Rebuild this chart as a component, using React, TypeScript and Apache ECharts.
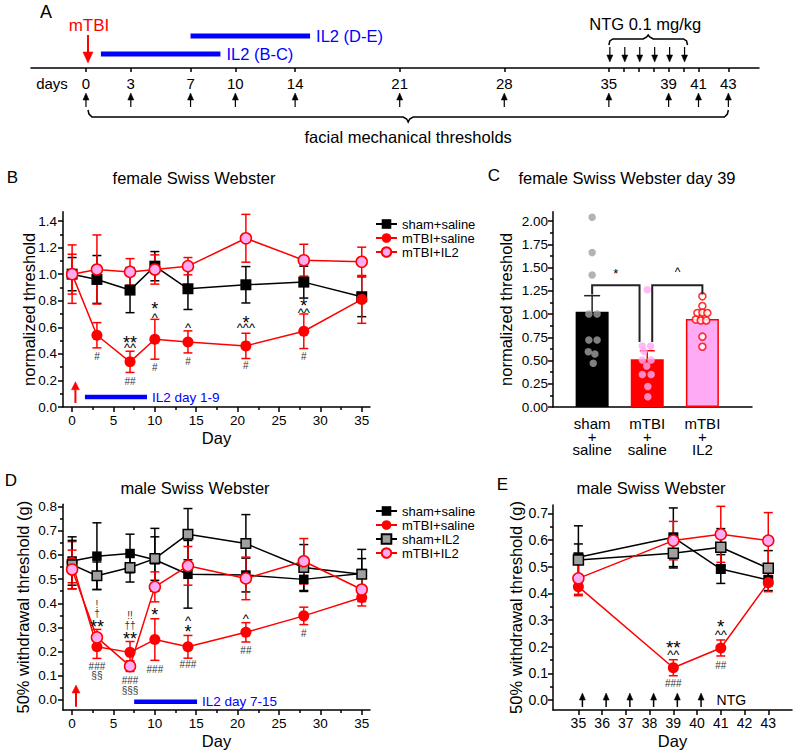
import React, { useEffect, useRef } from "react";
import * as echarts from "echarts";

const FONT = '"Liberation Sans", Arial, Helvetica, sans-serif';
const RED = "#ff0000";
const PINK = "#ffaaf5";
const GRAY = "#a0a0a0";
const BLUE = "#0000ff";
const BLACK = "#000000";

// ---------- Panel A: timeline ----------
const measureDays = [0, 3, 7, 10, 14, 21, 28, 35, 39, 41, 43];
const timelineTickDays = [0, 3, 7, 10, 14, 21, 28, 35, 36, 37, 38, 39, 40, 41, 43];
const ntgDays = [35, 36, 37, 38, 39, 40];
const il2Starts = [1, 7];
const il2Ends = [9, 15];
const il2Labels = ["IL2 (B-C)", "IL2 (D-E)"];
const ntgLabel = "NTG 0.1 mg/kg";
const braceLabel = "facial mechanical thresholds";

// ---------- Panel B: female, normalized threshold ----------
const daysB = [0, 3, 7, 10, 14, 21, 28, 35];
const bShamSaline = [1.0, 0.96, 0.88, 1.06, 0.89, 0.92, 0.94, 0.83];
const bShamSalineErr = [0.125, 0.18, 0.17, 0.11, 0.156, 0.137, 0.12, 0.15];
const bTbiSaline = [1.0, 0.54, 0.34, 0.51, 0.49, 0.46, 0.57, 0.81];
const bTbiSalineErr = [0.22, 0.095, 0.08, 0.15, 0.083, 0.095, 0.13, 0.18];
const bTbiIl2 = [1.0, 1.035, 1.017, 1.035, 1.06, 1.27, 1.105, 1.093];
const bTbiIl2Err = [0.15, 0.26, 0.1, 0.11, 0.065, 0.18, 0.12, 0.11];
const bMarks: [number, number, string][] = [
  [3, 0.38, "#"],
  [7, 0.515, "**"], [7, 0.465, "^^"], [7, 0.19, "##"],
  [10, 0.77, "*"], [10, 0.69, "^"], [10, 0.3, "#"],
  [14, 0.615, "^"], [14, 0.34, "#"],
  [21, 0.665, "*"], [21, 0.615, "^^^"], [21, 0.31, "#"],
  [28, 0.79, "*"], [28, 0.73, "^^"], [28, 0.38, "#"],
];
const bInjuryArrow = [0.4, 0.03, 0.19];
const bIl2Bar = [1.55, 9.05, 0.075];
const bIl2Label = "IL2 day 1-9";
const bXTicks = [0, 5, 10, 15, 20, 25, 30, 35];
const bXMinor = [2.5, 7.5, 12.5, 17.5, 22.5, 27.5, 32.5];
const bYTicks = [0, 0.2, 0.4, 0.6, 0.8, 1.0, 1.2, 1.4];
const bYMinor = [0.1, 0.3, 0.5, 0.7, 0.9, 1.1, 1.3];

// ---------- Panel C: day 39 bars ----------
const cCategories = ["sham\n+\nsaline", "mTBI\n+\nsaline", "mTBI\n+\nIL2"];
const cPositions = [1, 2, 3];
const cMeans = [1.025, 0.513, 0.946];
const cSem = [0.172, 0.092, 0.04];
const cShamDots = [2.04, 1.66, 1.42, 1.0, 1.0, 0.72, 0.72, 0.595, 0.57, 0.47];
const cShamJitter = [0, 0, 0, -0.06, 0.09, -0.06, 0.09, -0.07, 0.05, 0.02];
const cTbiSalDots = [1.26, 0.656, 0.656, 0.6, 0.505, 0.505, 0.44, 0.35, 0.35, 0.22, 0.11];
const cTbiSalJitter = [0, -0.09, 0.06, -0.06, -0.09, 0.07, -0.01, -0.09, 0.07, 0.01, 0.01];
const cTbiIl2Dots = [1.19, 1.086, 1.01, 1.015, 1.01, 0.94, 0.93, 0.93, 0.756, 0.648];
const cTbiIl2Jitter = [0, 0, -0.09, 0, 0.09, -0.12, -0.03, 0.07, 0, 0];
const cBrackets = [
  [1, 1.86, 1.31, 1.21, 0.7],
  [2.09, 3, 1.31, 0.7, 1.21],
];
const cMarks: [number, number, string][] = [
  [1.43, 1.47, "*"],
  [2.55, 1.47, "^"],
];
const cYTicks = [0, 0.25, 0.5, 0.75, 1.0, 1.25, 1.5, 1.75, 2.0];
const cYMinor = [0.125, 0.375, 0.625, 0.875, 1.125, 1.375, 1.625, 1.875];

// ---------- Panel D: male, 50% withdrawal threshold ----------
const daysD = [0, 3, 7, 10, 14, 21, 28, 35];
const dShamSaline = [0.575, 0.595, 0.606, 0.58, 0.52, 0.517, 0.499, 0.523];
const dShamSalineErr = [0.1, 0.138, 0.08, 0.13, 0.14, 0.07, 0.05, 0.1];
const dTbiSaline = [0.57, 0.22, 0.197, 0.25, 0.22, 0.28, 0.348, 0.424];
const dTbiSalineErr = [0.085, 0.048, 0.045, 0.086, 0.047, 0.04, 0.036, 0.035];
const dShamIl2 = [0.56, 0.514, 0.548, 0.585, 0.686, 0.647, 0.548, 0.52];
const dShamIl2Err = [0.1, 0.057, 0.06, 0.09, 0.106, 0.12, 0.095, 0.065];
const dTbiIl2 = [0.54, 0.259, 0.14, 0.468, 0.555, 0.503, 0.574, 0.457];
const dTbiIl2Err = [0.08, 0.033, 0.022, 0.062, 0.08, 0.088, 0.094, 0.05];
const dMarks: [number, number, string][] = [
  [3, 0.397, "!"], [3, 0.358, "\u2020"], [3, 0.317, "**"], [3, 0.138, "###"], [3, 0.1, "\u00a7\u00a7"],
  [7, 0.351, "!!"], [7, 0.307, "\u2020\u2020"], [7, 0.269, "**"], [7, 0.079, "###"], [7, 0.041, "\u00a7\u00a7\u00a7"],
  [10, 0.37, "*"], [10, 0.128, "###"],
  [14, 0.337, "^"], [14, 0.296, "*"], [14, 0.145, "###"],
  [21, 0.348, "^"], [21, 0.204, "##"],
  [28, 0.275, "#"],
];
const dInjuryArrow = [0.47, -0.028, 0.062];
const dIl2Bar = [7.5, 15.1, -0.007];
const dIl2Label = "IL2 day 7-15";
const dYTicks = [0, 0.1, 0.2, 0.3, 0.4, 0.5, 0.6, 0.7, 0.8];
const dYMinor = [0.05, 0.15, 0.25, 0.35, 0.45, 0.55, 0.65, 0.75];

// ---------- Panel E: male, NTG days 35-43 ----------
const daysE = [35, 39, 41, 43];
const eShamSaline = [0.535, 0.61, 0.491, 0.45];
const eShamSalineErr = [0.118, 0.11, 0.054, 0.04];
const eTbiSaline = [0.425, 0.121, 0.195, 0.44];
const eTbiSalineErr = [0.034, 0.03, 0.03, 0.034];
const eShamIl2 = [0.525, 0.55, 0.5725, 0.494];
const eShamIl2Err = [0.06, 0.055, 0.07, 0.066];
const eTbiIl2 = [0.456, 0.5975, 0.621, 0.5975];
const eTbiIl2Err = [0.06, 0.072, 0.105, 0.105];
const eMarks: [number, number, string][] = [
  [39, 0.2125, "**"], [39, 0.1775, "^^"], [39, 0.0625, "###"],
  [41, 0.29, "*"], [41, 0.2525, "^^"], [41, 0.131, "##"],
];
const eNtgArrowRange = [-0.026, 0.026];
const eNtgLabel = [40.82, 0];
const eXTicks = [35, 36, 37, 38, 39, 40, 41, 42, 43];
const eYTicks = [0, 0.1, 0.2, 0.3, 0.4, 0.5, 0.6, 0.7];
const eYMinor = [0.05, 0.15, 0.25, 0.35, 0.45, 0.55, 0.65];

const NAMES = ["sham+saline", "mTBI+saline", "sham+IL2", "mTBI+IL2"];

// ---------- helpers ----------
function axis(o: any) {
  const hasTicks = o.ticks && o.ticks.length > 0;
  return {
    type: "value",
    gridIndex: o.grid,
    min: o.min,
    max: o.max,
    position: o.pos,
    show: o.show !== false,
    name: o.name,
    nameLocation: "middle",
    nameGap: o.nameGap,
    nameMoveOverlap: false,
    nameTextStyle: { fontSize: 16.5, color: BLACK, fontFamily: FONT },
    axisLine: { show: o.line !== false, onZero: false, lineStyle: { color: BLACK, width: 1.5 } },
    axisTick: {
      show: hasTicks,
      inside: false,
      length: o.tickLen ?? 5,
      customValues: hasTicks ? o.ticks : undefined,
      lineStyle: { color: BLACK, width: 1.5 },
    },
    axisLabel: {
      show: !!o.labels,
      customValues: o.labels,
      formatter: o.fmt,
      color: BLACK,
      fontSize: o.labelSize ?? 13.5,
      fontFamily: FONT,
      margin: o.margin ?? 6,
      lineHeight: o.lineHeight,
    },
    splitLine: { show: false },
    minorTick: { show: false },
    minorSplitLine: { show: false },
  };
}

function arrowShapes(x: number, yTail: number, yTip: number, color: string, headLen: number, headHalf: number, lw: number) {
  const dir = yTip < yTail ? 1 : -1;
  const baseY = yTip + dir * headLen;
  return [
    { type: "line", shape: { x1: x, y1: yTail, x2: x, y2: baseY }, style: { stroke: color, lineWidth: lw } },
    {
      type: "polygon",
      shape: { points: [[x, yTip], [x - headHalf, baseY], [x + headHalf, baseY]] },
      style: { fill: color, stroke: color, lineWidth: 0.5 },
    },
  ];
}

function errorBars(xi: number, yi: number, xs: number[], ys: number[], errs: number[], color: string, cap: number, upOnly = false) {
  return {
    type: "custom",
    xAxisIndex: xi,
    yAxisIndex: yi,
    silent: true,
    z: 2,
    data: xs.map((x, i) => [x, upOnly ? ys[i] : ys[i] - errs[i], ys[i] + errs[i]]),
    renderItem: (_p: any, api: any) => {
      const x = api.value(0);
      const lo = api.coord([x, api.value(1)]);
      const hi = api.coord([x, api.value(2)]);
      const w = cap / 2;
      const st = { stroke: color, lineWidth: 1.5 };
      const children: any[] = [
        { type: "line", shape: { x1: lo[0], y1: lo[1], x2: hi[0], y2: hi[1] }, style: st },
        { type: "line", shape: { x1: hi[0] - w, y1: hi[1], x2: hi[0] + w, y2: hi[1] }, style: st },
      ];
      if (!upOnly) children.push({ type: "line", shape: { x1: lo[0] - w, y1: lo[1], x2: lo[0] + w, y2: lo[1] }, style: st });
      return { type: "group", children };
    },
  };
}

function lineSeries(name: string, xi: number, yi: number, xs: number[], ys: number[], symbol: string, size: number, fill: string, border: string | null, lineColor: string) {
  return {
    type: "line",
    name,
    xAxisIndex: xi,
    yAxisIndex: yi,
    z: 3,
    silent: true,
    data: xs.map((x, i) => [x, ys[i]]),
    symbol,
    symbolSize: size,
    showSymbol: true,
    lineStyle: { color: lineColor, width: 1.5 },
    itemStyle: { color: fill, borderColor: border || fill, borderWidth: border ? 1.5 : 0 },
    emphasis: { disabled: true },
  };
}

function markSeries(xi: number, yi: number, marks: [number, number, string][], starSize: number, caretSize: number) {
  return {
    type: "custom",
    xAxisIndex: xi,
    yAxisIndex: yi,
    silent: true,
    z: 6,
    data: marks.map((m) => [m[0], m[1]]),
    renderItem: (params: any, api: any) => {
      const m = marks[params.dataIndex];
      const c = api.coord([api.value(0), api.value(1)]);
      const t = m[2];
      const ch = t[0];
      let size = 10;
      let color = "#333333";
      let dy = 0;
      if (ch === "*") {
        size = starSize;
        color = BLACK;
        dy = starSize * 0.22;
      } else if (ch === "^") {
        size = caretSize;
        color = BLACK;
        dy = caretSize * 0.17;
      }
      return {
        type: "text",
        x: c[0],
        y: c[1] + dy,
        style: { text: t, fontSize: size, fontFamily: FONT, fill: color, align: "center", verticalAlign: "middle" },
      };
    },
  };
}

function injuryArrowSeries(xi: number, yi: number, arrow: number[]) {
  return {
    type: "custom",
    xAxisIndex: xi,
    yAxisIndex: yi,
    silent: true,
    z: 5,
    data: [arrow],
    renderItem: (_p: any, api: any) => {
      const a = api.coord([api.value(0), api.value(1)]);
      const b = api.coord([api.value(0), api.value(2)]);
      return { type: "group", children: arrowShapes(a[0], a[1], b[1], RED, 8, 4, 2) };
    },
  };
}

function il2BarSeries(xi: number, yi: number, bar: number[], label: string) {
  return {
    type: "custom",
    xAxisIndex: xi,
    yAxisIndex: yi,
    silent: true,
    z: 5,
    data: [bar],
    renderItem: (_p: any, api: any) => {
      const a = api.coord([api.value(0), api.value(2)]);
      const b = api.coord([api.value(1), api.value(2)]);
      return {
        type: "group",
        children: [
          { type: "line", shape: { x1: a[0], y1: a[1], x2: b[0], y2: b[1] }, style: { stroke: BLUE, lineWidth: 4.5 } },
          {
            type: "text",
            x: b[0] + 5,
            y: b[1],
            style: { text: label, fontSize: 13.5, fontFamily: FONT, fill: BLUE, align: "left", verticalAlign: "middle" },
          },
        ],
      };
    },
  };
}

function braceSeries(span: number[], down: boolean, label: string) {
  return {
    type: "custom",
    xAxisIndex: 0,
    yAxisIndex: 0,
    silent: true,
    data: [span],
    renderItem: (_p: any, api: any) => {
      const a = api.coord([api.value(0), 0]);
      const b = api.coord([api.value(1), 0]);
      const base = a[1];
      let pts: number[][];
      if (down) {
        const x0 = a[0] + 2;
        const x1 = b[0];
        const mid = (x0 + x1) / 2;
        const e = base + 42, h = base + 49, t = base + 54;
        pts = [[x0, e], [x0 + 1, e + 4], [x0 + 4, h], [mid - 5, h], [mid - 1.5, h + 2], [mid, t], [mid + 1.5, h + 2], [mid + 5, h], [x1 - 4, h], [x1 - 1, e + 4], [x1, e]];
        return {
          type: "group",
          children: [
            { type: "polyline", shape: { points: pts }, style: { stroke: BLACK, lineWidth: 1.5, fill: null } },
            { type: "text", x: mid, y: base + 69, style: { text: label, fontSize: 16.5, fontFamily: FONT, fill: BLACK, align: "center", verticalAlign: "middle" } },
          ],
        };
      }
      const x0 = a[0];
      const x1 = b[0] + 4;
      const mid = (x0 + x1) / 2;
      const e = base - 23, h = base - 29, t = base - 33;
      pts = [[x0, e], [x0 + 1, e - 4], [x0 + 4, h], [mid - 5, h], [mid - 1.5, h - 2], [mid, t], [mid + 1.5, h - 2], [mid + 5, h], [x1 - 4, h], [x1 - 1, e - 4], [x1, e]];
      return {
        type: "group",
        children: [
          { type: "polyline", shape: { points: pts }, style: { stroke: BLACK, lineWidth: 1.5, fill: null } },
          { type: "text", x: mid - 3, y: base - 44, style: { text: label, fontSize: 16.5, fontFamily: FONT, fill: BLACK, align: "center", verticalAlign: "middle" } },
        ],
      };
    },
  };
}

function gtext(text: string, x: number, y: number, size: number, color = BLACK, align = "center") {
  return {
    type: "text",
    x,
    y,
    silent: true,
    style: { text, fontSize: size, fontFamily: FONT, fill: color, align, verticalAlign: "middle" },
  };
}

function buildOption() {
  const f1 = (v: number) => v.toFixed(1);
  const f2 = (v: number) => v.toFixed(2);
  const fi = (v: number) => String(Math.round(v));

  const grids = [
    { left: 31, top: 18, width: 728, height: 50 },
    { left: 63, top: 211.7, width: 307, height: 195.3 },
    { left: 553, top: 211.7, width: 199, height: 195.3 },
    { left: 63, top: 504.2, width: 307, height: 205.8 },
    { left: 553, top: 505, width: 239, height: 205 },
  ].map((g) => ({ ...g, containLabel: false, outerBoundsMode: "none", show: false }));

  const xAxis = [
    axis({ grid: 0, min: -3.68, max: 45.05, pos: "bottom", ticks: timelineTickDays, labels: measureDays, fmt: fi, tickLen: 4, labelSize: 15, margin: 8 }),
    axis({ grid: 1, min: -1.1, max: 36, pos: "bottom", ticks: bXTicks, labels: bXTicks, fmt: fi, name: "Day", nameGap: 22 }),
    axis({ grid: 1, min: -1.1, max: 36, pos: "bottom", ticks: bXMinor, tickLen: 3, line: false }),
    axis({ grid: 2, min: 0.29, max: 3.9, pos: "bottom", ticks: [], labels: cPositions, fmt: (v: number) => cCategories[Math.round(v) - 1], labelSize: 15, lineHeight: 13, margin: 9.5 }),
    axis({ grid: 3, min: -1.1, max: 36, pos: "bottom", ticks: bXTicks, labels: bXTicks, fmt: fi, name: "Day", nameGap: 22 }),
    axis({ grid: 3, min: -1.1, max: 36, pos: "bottom", ticks: bXMinor, tickLen: 3, line: false }),
    axis({ grid: 4, min: 33.93, max: 44, pos: "bottom", ticks: eXTicks, labels: eXTicks, fmt: fi, labelSize: 14, name: "Day", nameGap: 22 }),
  ];

  const yAxis = [
    axis({ grid: 0, min: 0, max: 1, pos: "left", show: false }),
    axis({ grid: 1, min: 0, max: 1.47, pos: "left", ticks: bYTicks, labels: bYTicks, fmt: f1, name: "normalized threshold", nameGap: 26 }),
    axis({ grid: 1, min: 0, max: 1.47, pos: "left", ticks: bYMinor, tickLen: 3, line: false }),
    axis({ grid: 2, min: 0, max: 2.1, pos: "left", ticks: cYTicks, labels: cYTicks, fmt: f2, name: "normalized threshold", nameGap: 39, margin: 5 }),
    axis({ grid: 2, min: 0, max: 2.1, pos: "left", ticks: cYMinor, tickLen: 3, line: false }),
    axis({ grid: 3, min: -0.0414, max: 0.81, pos: "left", ticks: dYTicks, labels: dYTicks, fmt: f1, name: "50% withdrawal threshold (g)", nameGap: 32 }),
    axis({ grid: 3, min: -0.0414, max: 0.81, pos: "left", ticks: dYMinor, tickLen: 3, line: false }),
    axis({ grid: 4, min: -0.0375, max: 0.731, pos: "left", ticks: eYTicks, labels: eYTicks, fmt: f1, labelSize: 14, name: "50% withdrawal threshold (g)", nameGap: 29, margin: 5 }),
    axis({ grid: 4, min: -0.0375, max: 0.731, pos: "left", ticks: eYMinor, tickLen: 3, line: false }),
  ];

  const series: any[] = [];

  // ---- Panel A
  series.push({
    type: "custom", xAxisIndex: 0, yAxisIndex: 0, silent: true,
    data: measureDays.map((d) => [d, 0]),
    renderItem: (_p: any, api: any) => {
      const c = api.coord([api.value(0), 0]);
      return { type: "group", children: arrowShapes(c[0], c[1] + 39, c[1] + 25, BLACK, 7, 3, 1.2) };
    },
  });
  series.push({
    type: "custom", xAxisIndex: 0, yAxisIndex: 0, silent: true,
    data: ntgDays.map((d) => [d, 0]),
    renderItem: (_p: any, api: any) => {
      const c = api.coord([api.value(0), 0]);
      return { type: "group", children: arrowShapes(c[0] + 1, c[1] - 21, c[1] - 6, BLACK, 7, 3, 1.2) };
    },
  });
  const il2RowOffsets = [-14, -32];
  series.push({
    type: "custom", xAxisIndex: 0, yAxisIndex: 0, silent: true,
    data: il2Starts.map((s, i) => [s, il2Ends[i]]),
    renderItem: (p: any, api: any) => {
      const a = api.coord([api.value(0), 0]);
      const b = api.coord([api.value(1), 0]);
      const y = a[1] + il2RowOffsets[p.dataIndex];
      return {
        type: "group",
        children: [
          { type: "line", shape: { x1: a[0], y1: y, x2: b[0], y2: y }, style: { stroke: BLUE, lineWidth: 5 } },
          { type: "text", x: b[0] + 6, y, style: { text: il2Labels[p.dataIndex], fontSize: 16.5, fontFamily: FONT, fill: BLUE, align: "left", verticalAlign: "middle" } },
        ],
      };
    },
  });
  series.push({
    type: "custom", xAxisIndex: 0, yAxisIndex: 0, silent: true,
    data: [[0, 0]],
    renderItem: (_p: any, api: any) => {
      const c = api.coord([api.value(0), 0]);
      const x = c[0] + 2;
      return {
        type: "group",
        children: [
          ...arrowShapes(x, c[1] - 33, c[1] - 5, RED, 11, 5, 2),
          { type: "text", x: x + 1, y: c[1] - 43, style: { text: "mTBI", fontSize: 17, fontFamily: FONT, fill: RED, align: "center", verticalAlign: "middle" } },
        ],
      };
    },
  });
  series.push(braceSeries([measureDays[0], measureDays[measureDays.length - 1]], true, braceLabel));
  series.push(braceSeries([ntgDays[0], ntgDays[ntgDays.length - 1]], false, ntgLabel));

  // ---- Panel B
  series.push(errorBars(1, 1, daysB, bShamSaline, bShamSalineErr, BLACK, 9));
  series.push(errorBars(1, 1, daysB, bTbiSaline, bTbiSalineErr, RED, 9));
  series.push(errorBars(1, 1, daysB, bTbiIl2, bTbiIl2Err, RED, 9));
  series.push(lineSeries(NAMES[0], 1, 1, daysB, bShamSaline, "rect", 11, BLACK, null, BLACK));
  series.push(lineSeries(NAMES[1], 1, 1, daysB, bTbiSaline, "circle", 11, RED, null, RED));
  series.push(lineSeries(NAMES[3], 1, 1, daysB, bTbiIl2, "circle", 11, PINK, RED, RED));
  series.push(markSeries(1, 1, bMarks, 18, 13));
  series.push(injuryArrowSeries(1, 1, bInjuryArrow));
  series.push(il2BarSeries(1, 1, bIl2Bar, bIl2Label));

  // ---- Panel C
  const cBarStyles = [
    { color: BLACK },
    { color: RED },
    { color: PINK, borderColor: RED, borderWidth: 1.5 },
  ];
  series.push({
    type: "bar", xAxisIndex: 3, yAxisIndex: 3, barWidth: 33, z: 1, silent: true,
    data: cPositions.map((x, i) => ({ value: [x, cMeans[i]], itemStyle: cBarStyles[i] })),
  });
  series.push(errorBars(3, 3, [cPositions[0]], [cMeans[0]], [cSem[0]], "#222222", 16, true));
  series.push(errorBars(3, 3, [cPositions[1]], [cMeans[1]], [cSem[1]], RED, 15, true));
  series.push(errorBars(3, 3, [cPositions[2]], [cMeans[2]], [cSem[2]], RED, 15, true));
  series.push({
    type: "scatter", xAxisIndex: 3, yAxisIndex: 3, symbolSize: 7.5, z: 4, silent: true,
    data: cShamDots.map((v, i) => [cPositions[0] + cShamJitter[i], v]),
    itemStyle: { color: GRAY },
  });
  series.push({
    type: "scatter", xAxisIndex: 3, yAxisIndex: 3, symbolSize: 7.5, z: 4, silent: true,
    data: cTbiSalDots.map((v, i) => [cPositions[1] + cTbiSalJitter[i], v]),
    itemStyle: { color: PINK },
  });
  series.push({
    type: "scatter", xAxisIndex: 3, yAxisIndex: 3, symbolSize: 7, z: 4, silent: true,
    data: cTbiIl2Dots.map((v, i) => [cPositions[2] + cTbiIl2Jitter[i], v]),
    itemStyle: { color: "#ffffff", borderColor: RED, borderWidth: 1.6 },
  });
  series.push({
    type: "custom", xAxisIndex: 3, yAxisIndex: 3, silent: true, z: 5,
    data: cBrackets,
    renderItem: (_p: any, api: any) => {
      const a = api.coord([api.value(0), api.value(3)]);
      const b = api.coord([api.value(0), api.value(2)]);
      const c = api.coord([api.value(1), api.value(2)]);
      const d = api.coord([api.value(1), api.value(4)]);
      return { type: "polyline", shape: { points: [a, b, c, d] }, style: { stroke: "#222222", lineWidth: 2, fill: null } };
    },
  });
  series.push(markSeries(3, 3, cMarks, 13, 12));

  // ---- Panel D
  series.push(errorBars(4, 5, daysD, dShamSaline, dShamSalineErr, BLACK, 9));
  series.push(errorBars(4, 5, daysD, dTbiSaline, dTbiSalineErr, RED, 9));
  series.push(errorBars(4, 5, daysD, dShamIl2, dShamIl2Err, BLACK, 9));
  series.push(errorBars(4, 5, daysD, dTbiIl2, dTbiIl2Err, RED, 9));
  series.push(lineSeries(NAMES[0], 4, 5, daysD, dShamSaline, "rect", 9.5, BLACK, null, BLACK));
  series.push(lineSeries(NAMES[1], 4, 5, daysD, dTbiSaline, "circle", 11, RED, null, RED));
  series.push(lineSeries(NAMES[2], 4, 5, daysD, dShamIl2, "rect", 9.5, GRAY, BLACK, BLACK));
  series.push(lineSeries(NAMES[3], 4, 5, daysD, dTbiIl2, "circle", 11, PINK, RED, RED));
  series.push(markSeries(4, 5, dMarks, 18, 13));
  series.push(injuryArrowSeries(4, 5, dInjuryArrow));
  series.push(il2BarSeries(4, 5, dIl2Bar, dIl2Label));

  // ---- Panel E
  series.push(errorBars(6, 7, daysE, eShamSaline, eShamSalineErr, BLACK, 9));
  series.push(errorBars(6, 7, daysE, eTbiSaline, eTbiSalineErr, RED, 9));
  series.push(errorBars(6, 7, daysE, eShamIl2, eShamIl2Err, BLACK, 9));
  series.push(errorBars(6, 7, daysE, eTbiIl2, eTbiIl2Err, RED, 9));
  series.push(lineSeries(NAMES[0], 6, 7, daysE, eShamSaline, "rect", 10, BLACK, null, BLACK));
  series.push(lineSeries(NAMES[1], 6, 7, daysE, eTbiSaline, "circle", 11, RED, null, RED));
  series.push(lineSeries(NAMES[2], 6, 7, daysE, eShamIl2, "rect", 10, GRAY, BLACK, BLACK));
  series.push(lineSeries(NAMES[3], 6, 7, daysE, eTbiIl2, "circle", 11, PINK, RED, RED));
  series.push(markSeries(6, 7, eMarks, 19, 13));
  series.push({
    type: "custom", xAxisIndex: 6, yAxisIndex: 7, silent: true, z: 5,
    data: ntgDays.map((d) => [d, eNtgArrowRange[0], eNtgArrowRange[1]]),
    renderItem: (_p: any, api: any) => {
      const a = api.coord([api.value(0), api.value(1)]);
      const b = api.coord([api.value(0), api.value(2)]);
      return { type: "group", children: arrowShapes(a[0] + 4, a[1], b[1], BLACK, 7, 3, 1.5) };
    },
  });
  series.push({
    type: "custom", xAxisIndex: 6, yAxisIndex: 7, silent: true, z: 5,
    data: [eNtgLabel],
    renderItem: (_p: any, api: any) => {
      const c = api.coord([api.value(0), api.value(1)]);
      return { type: "text", x: c[0], y: c[1], style: { text: "NTG", fontSize: 14, fontFamily: FONT, fill: BLACK, align: "left", verticalAlign: "middle" } };
    },
  });

  const legendBase = {
    orient: "vertical",
    left: 375,
    padding: 0,
    itemGap: 1,
    itemWidth: 21,
    itemHeight: 12,
    selectedMode: false,
    textStyle: { fontSize: 13, color: BLACK, fontFamily: FONT },
  };

  return {
    animation: false,
    backgroundColor: "#ffffff",
    textStyle: { fontFamily: FONT },
    grid: grids,
    xAxis,
    yAxis,
    legend: [
      { ...legendBase, top: 217.5, data: [NAMES[0], NAMES[1], NAMES[3]] },
      { ...legendBase, top: 504.5, data: [NAMES[0], NAMES[1], NAMES[2], NAMES[3]] },
    ],
    graphic: [
      gtext("A", 46, 12, 18),
      gtext("days", 52, 83, 15),
      gtext("B", 12.5, 177, 17),
      gtext("female Swiss Webster", 194, 178, 16.5),
      gtext("C", 494, 175, 17),
      gtext("female Swiss Webster day 39", 627, 178, 16.5),
      gtext("D", 11, 480, 17),
      gtext("male Swiss Webster", 195, 488, 16.5),
      gtext("E", 502.5, 484, 17),
      gtext("male Swiss Webster", 651, 488, 16.5),
    ],
    series,
  };
}

export default function App() {
  const ref = useRef<HTMLDivElement>(null);
  useEffect(() => {
    if (!ref.current) return;
    const chart = echarts.init(ref.current, undefined, { renderer: "svg" });
    chart.setOption(buildOption() as any);
    return () => chart.dispose();
  }, []);
  return (
    <div
      ref={ref}
      style={{ position: "absolute", left: 0, top: 0, width: 800, height: 754, background: "#ffffff" }}
    />
  );
}
